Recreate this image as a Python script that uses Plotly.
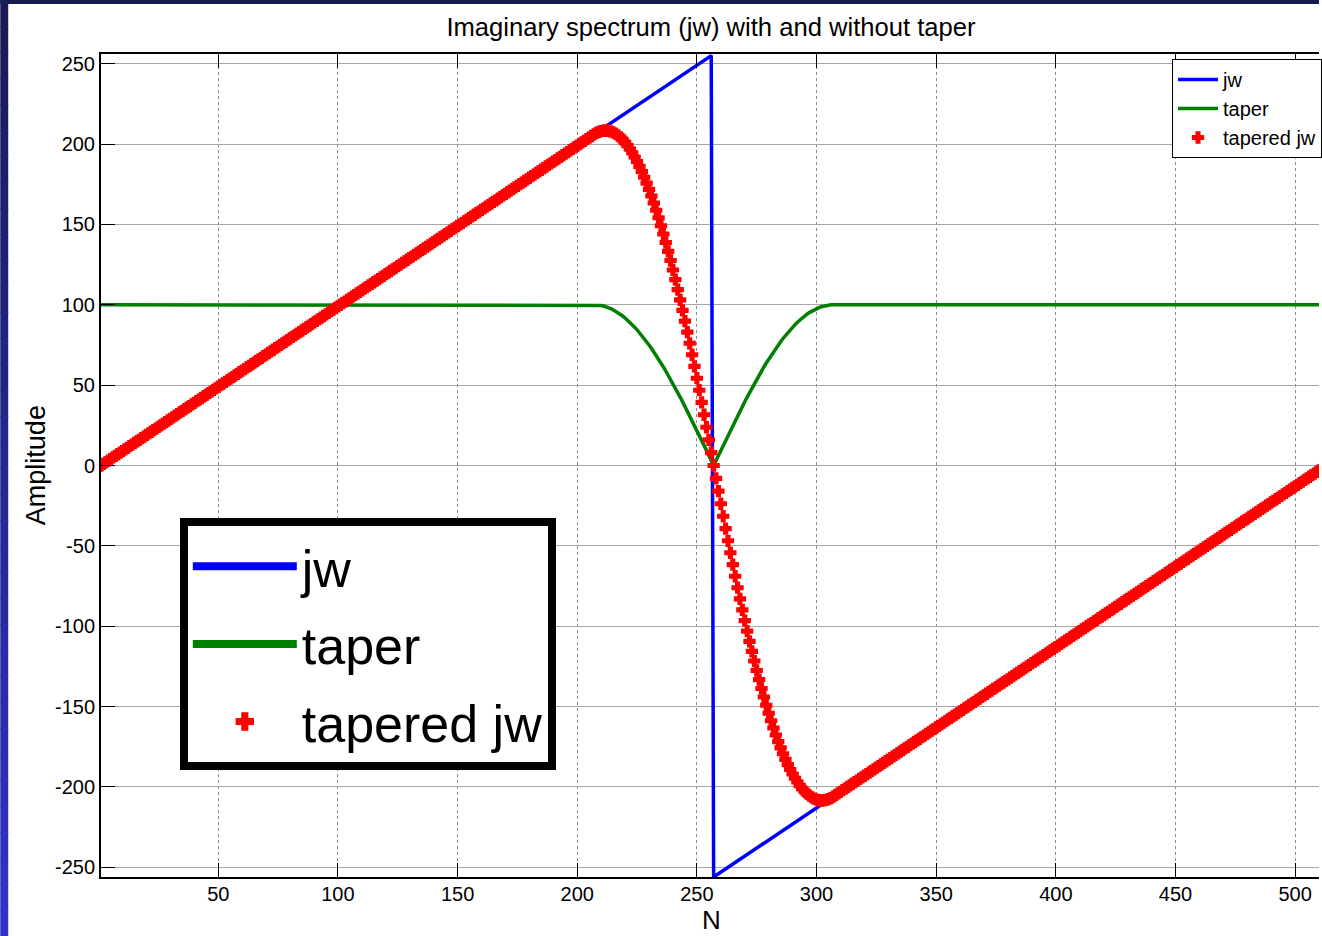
import plotly.graph_objects as go

# ---- data -------------------------------------------------------------
# sample index of the spectrum
sample_n = list(range(1, 513))

# jw ramp: rises to the Nyquist bin, wraps to the negative side, rises again
jw_n = [1, 256, 257, 512]
jw_values = [0, 255, -256, -1]

# taper (percent): flat at 100 with a dip around the Nyquist bin
taper_dip = [
    99.95, 99.80, 99.56, 99.21, 98.77, 98.23, 97.59, 96.86, 96.03, 95.11,
    94.09, 92.98, 91.78, 90.48, 89.10, 87.63, 86.07, 84.43, 82.71, 80.90,
    79.02, 77.05, 75.01, 72.90, 70.71, 68.45, 66.13, 63.74, 61.29, 58.78,
    56.21, 53.58, 50.90, 48.18, 45.40, 42.58, 39.71, 36.81, 33.87, 30.90,
    27.90, 24.87, 21.81, 18.74, 15.64, 12.53, 9.41, 6.28, 3.14,
    0.00,
    3.14, 6.28, 9.41, 12.53, 15.64, 18.74, 21.81, 24.87, 27.90,
    30.90, 33.87, 36.81, 39.71, 42.58, 45.40, 48.18, 50.90, 53.58, 56.21,
    58.78, 61.29, 63.74, 66.13, 68.45, 70.71, 72.90, 75.01, 77.05, 79.02,
    80.90, 82.71, 84.43, 86.07, 87.63, 89.10, 90.48, 91.78, 92.98, 94.09,
    95.11, 96.03, 96.86, 97.59, 98.23, 98.77, 99.21, 99.56, 99.80, 99.95,
]
taper_values = [100.0] * 207 + taper_dip + [100.0] * 206

# jw after applying the taper, one value per sample
tapered_jw = [
    0, 1, 2, 3, 4, 5, 6, 7, 8, 9, 10, 11, 12, 13, 14, 15, 16, 17, 18, 19,
    20, 21, 22, 23, 24, 25, 26, 27, 28, 29, 30, 31, 32, 33, 34, 35, 36, 37, 38, 39,
    40, 41, 42, 43, 44, 45, 46, 47, 48, 49, 50, 51, 52, 53, 54, 55, 56, 57, 58, 59,
    60, 61, 62, 63, 64, 65, 66, 67, 68, 69, 70, 71, 72, 73, 74, 75, 76, 77, 78, 79,
    80, 81, 82, 83, 84, 85, 86, 87, 88, 89, 90, 91, 92, 93, 94, 95, 96, 97, 98, 99,
    100, 101, 102, 103, 104, 105, 106, 107, 108, 109, 110, 111, 112, 113, 114, 115, 116, 117, 118, 119,
    120, 121, 122, 123, 124, 125, 126, 127, 128, 129, 130, 131, 132, 133, 134, 135, 136, 137, 138, 139,
    140, 141, 142, 143, 144, 145, 146, 147, 148, 149, 150, 151, 152, 153, 154, 155, 156, 157, 158, 159,
    160, 161, 162, 163, 164, 165, 166, 167, 168, 169, 170, 171, 172, 173, 174, 175, 176, 177, 178, 179,
    180, 181, 182, 183, 184, 185, 186, 187, 188, 189, 190, 191, 192, 193, 194, 195, 196, 197, 198, 199,
    200, 201, 202, 203, 204, 205, 206,
    206.90, 207.59, 208.07, 208.34, 208.40, 208.24, 207.87, 207.28, 206.46, 205.43,
    204.17, 202.69, 200.99, 199.06, 196.91, 194.54, 191.95, 189.13, 186.09, 182.84,
    179.37, 175.68, 171.78, 167.66, 163.34, 158.81, 154.09, 149.16, 144.03, 138.72,
    133.21, 127.53, 121.66, 115.62, 109.41, 103.04, 96.51, 89.82, 82.99, 76.02,
    68.91, 61.68, 54.32, 46.85, 39.26, 31.58, 23.81, 15.95, 8.01,
    0,
    -8.01, -15.95, -23.81, -31.58, -39.26, -46.85, -54.32, -61.68, -68.91,
    -76.02, -82.99, -89.82, -96.51, -103.04, -109.41, -115.62, -121.66, -127.53, -133.21,
    -138.72, -144.03, -149.16, -154.09, -158.81, -163.34, -167.66, -171.78, -175.68, -179.37,
    -182.84, -186.09, -189.13, -191.95, -194.54, -196.91, -199.06, -200.99, -202.69, -204.17,
    -205.43, -206.46, -207.28, -207.87, -208.24, -208.40, -208.34, -208.07, -207.59, -206.90,
    -206, -205, -204, -203, -202, -201, -200, -199, -198, -197, -196, -195, -194, -193, -192, -191, -190, -189, -188, -187,
    -186, -185, -184, -183, -182, -181, -180, -179, -178, -177, -176, -175, -174, -173, -172, -171, -170, -169, -168, -167,
    -166, -165, -164, -163, -162, -161, -160, -159, -158, -157, -156, -155, -154, -153, -152, -151, -150, -149, -148, -147,
    -146, -145, -144, -143, -142, -141, -140, -139, -138, -137, -136, -135, -134, -133, -132, -131, -130, -129, -128, -127,
    -126, -125, -124, -123, -122, -121, -120, -119, -118, -117, -116, -115, -114, -113, -112, -111, -110, -109, -108, -107,
    -106, -105, -104, -103, -102, -101, -100, -99, -98, -97, -96, -95, -94, -93, -92, -91, -90, -89, -88, -87,
    -86, -85, -84, -83, -82, -81, -80, -79, -78, -77, -76, -75, -74, -73, -72, -71, -70, -69, -68, -67,
    -66, -65, -64, -63, -62, -61, -60, -59, -58, -57, -56, -55, -54, -53, -52, -51, -50, -49, -48, -47,
    -46, -45, -44, -43, -42, -41, -40, -39, -38, -37, -36, -35, -34, -33, -32, -31, -30, -29, -28, -27,
    -26, -25, -24, -23, -22, -21, -20, -19, -18, -17, -16, -15, -14, -13, -12, -11, -10, -9, -8, -7,
    -6, -5, -4, -3, -2, -1,
]

x_ticks = [50, 100, 150, 200, 250, 300, 350, 400, 450, 500]
y_ticks = [-250, -200, -150, -100, -50, 0, 50, 100, 150, 200, 250]
y_tick_labels = ["-250", "-200", "-150", "-100", "-50", "0", "50", "100", "150", "200", "250"]

series_names = ["jw", "taper", "tapered jw"]

# ---- figure -----------------------------------------------------------
FONT = "Liberation Sans, Arial, Helvetica, sans-serif"
BLUE, GREEN, RED = "#0000ff", "#008000", "#ff0000"

fig = go.Figure()

fig.add_trace(go.Scatter(x=jw_n, y=jw_values, mode="lines", name=series_names[0],
                         line=dict(color=BLUE, width=3.5), legend="legend"))
fig.add_trace(go.Scatter(x=sample_n, y=taper_values, mode="lines", name=series_names[1],
                         line=dict(color=GREEN, width=3.5), legend="legend"))
fig.add_trace(go.Scatter(x=sample_n, y=tapered_jw, mode="markers", name=series_names[2],
                         marker=dict(symbol="cross", size=9, color=RED,
                                     line=dict(width=1.5, color=RED)),
                         legend="legend"))

# entries for the enlarged legend box (one group each so rows can be spaced)
fig.add_trace(go.Scatter(x=[None], y=[None], mode="lines", name=series_names[0],
                         line=dict(color=BLUE, width=8), legend="legend2", legendgroup="g1"))
fig.add_trace(go.Scatter(x=[None], y=[None], mode="lines", name=series_names[1],
                         line=dict(color=GREEN, width=8), legend="legend2", legendgroup="g2"))
fig.add_trace(go.Scatter(x=[None], y=[None], mode="markers", name=series_names[2],
                         marker=dict(symbol="cross", size=14, color=RED,
                                     line=dict(width=1.5, color=RED)),
                         legend="legend2", legendgroup="g3"))

W, H = 1322, 936
ML, MR, MT, MB = 101, 0, 54, 59
PW, PH = W - ML - MR, H - MT - MB


def px_x(p):
    return (p - ML) / PW


def px_y(p):
    return (H - MB - p) / PH


# slide frame: dark strip along the top, blue gradient strip on the left
shapes = [dict(type="rect", xref="paper", yref="paper", x0=px_x(0), x1=px_x(W),
               y0=px_y(4), y1=px_y(0), fillcolor="rgb(22,26,78)", line=dict(width=0),
               layer="above")]
steps = 36
for i in range(steps):
    t = i / (steps - 1)
    r = int(24 + (50 - 24) * t)
    g = int(28 + (50 - 28) * t)
    b = int(86 + (200 - 86) * t)
    y_top = H * i / steps
    y_bot = H * (i + 1) / steps + 1
    shapes.append(dict(type="rect", xref="paper", yref="paper", x0=px_x(0), x1=px_x(8),
                       y0=px_y(y_bot), y1=px_y(y_top), fillcolor=f"rgb({r},{g},{b})",
                       line=dict(width=0), layer="above"))

fig.update_layout(
    width=W, height=H, autosize=False,
    margin=dict(l=ML, r=MR, t=MT, b=MB, pad=0),
    paper_bgcolor="white", plot_bgcolor="white",
    font=dict(family=FONT, size=20, color="black"),
    title=dict(text="Imaginary spectrum (jw) with and without taper",
               x=px_x(712.5), xref="paper", xanchor="center",
               y=1 - 27 / H, yref="container", yanchor="middle",
               font=dict(family=FONT, size=25.6, color="black")),
    xaxis=dict(range=[1, 1 + (W - ML) / 2.399], tickvals=x_ticks, ticks="inside",
               ticklen=14, tickwidth=1, tickcolor="black", showline=True,
               linecolor="black", linewidth=2, mirror="ticks", showgrid=True,
               gridcolor="#8c8c8c", gridwidth=1, griddash="dot", zeroline=False,
               tickfont=dict(size=20), ticklabelstandoff=-2),
    yaxis=dict(range=[-256, 256], tickvals=y_ticks, ticktext=y_tick_labels,
               ticks="inside", ticklen=14, tickwidth=1, tickcolor="black",
               showline=True, linecolor="black", linewidth=2, showgrid=True,
               gridcolor="#a6a6a6", gridwidth=1.2, zeroline=False,
               tickfont=dict(size=20)),
    legend=dict(x=px_x(1175), y=px_y(59), xanchor="left", yanchor="top",
                bgcolor="white", bordercolor="black", borderwidth=1,
                font=dict(family=FONT, size=20, color="black"), itemwidth=40),
    legend2=dict(x=px_x(180), y=px_y(518), xanchor="left", yanchor="top",
                 bgcolor="white", bordercolor="black", borderwidth=8,
                 font=dict(family=FONT, size=52, color="black"), itemwidth=104,
                 tracegroupgap=7),
    shapes=shapes,
    annotations=[
        dict(text="N", xref="paper", yref="paper", x=px_x(713), y=px_y(920),
             xanchor="center", yanchor="middle", showarrow=False,
             font=dict(family=FONT, size=26, color="black")),
        dict(text="Amplitude", xref="paper", yref="paper", x=px_x(36), y=px_y(465),
             xanchor="center", yanchor="middle", showarrow=False, textangle=-90,
             font=dict(family=FONT, size=27, color="black")),
    ],
    showlegend=True,
)

fig.write_html("out.html")
